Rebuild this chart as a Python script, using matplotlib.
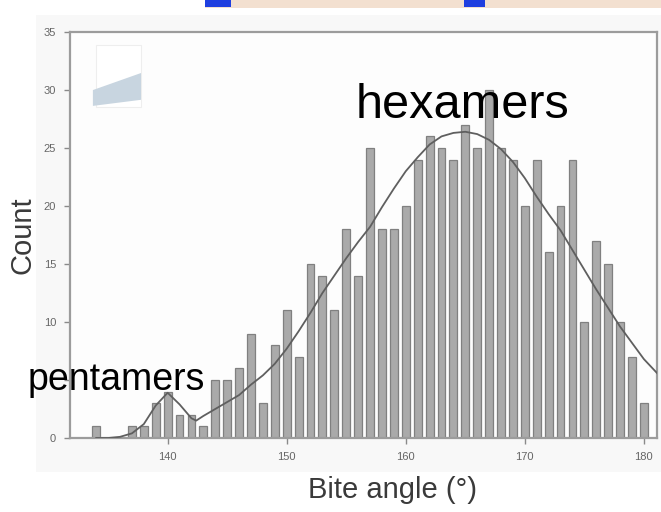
import numpy as np
import matplotlib
matplotlib.use('Agg')
import matplotlib.pyplot as plt
from matplotlib.patches import Rectangle, Polygon

plt.rcParams['font.family'] = ['Liberation Sans', 'DejaVu Sans']

# histogram of bite angles, 1 degree bins
angles = list(range(134, 181))
counts = [1, 0, 0, 1, 1, 3, 4, 2, 2, 1,
          5, 5, 6, 9, 3, 8, 11, 7, 15, 14,
          11, 18, 14, 25, 18, 18, 20, 24, 26, 25,
          24, 27, 25, 30, 25, 24, 20, 24, 16, 20,
          24, 10, 17, 15, 10, 7, 3]

# fitted distribution (pentamer + hexamer populations)
fit_x = [134, 135, 136, 137, 138, 139, 140, 141, 142, 142.4, 143, 144,
         145, 146, 147, 148, 149, 150, 151, 152, 153, 154, 155, 156,
         157, 158, 159, 160, 161, 162, 163, 164, 165, 166, 167, 168,
         169, 170, 171, 172, 173, 174, 175, 176, 177, 178, 179, 180, 181.1]
fit_y = [0.0, 0.0, 0.1, 0.4, 1.2, 2.8, 3.9, 2.9, 1.7, 1.5, 1.9, 2.5,
         3.1, 3.7, 4.6, 5.4, 6.4, 7.7, 9.2, 10.8, 12.5, 14.0, 15.5, 16.9,
         18.2, 19.9, 21.5, 23.0, 24.2, 25.3, 26.0, 26.3, 26.4, 26.2, 25.7, 24.9,
         23.8, 22.4, 20.8, 19.3, 17.9, 16.2, 14.5, 12.8, 11.2, 9.6, 8.2, 6.8, 5.6]

xticks = [140, 150, 160, 170, 180]
yticks = [0, 5, 10, 15, 20, 25, 30, 35]
# the "5" label sits under the pentamers annotation
ytick_labels = ['0', '', '10', '15', '20', '25', '30', '35']

fig = plt.figure(figsize=(6.61, 5.12), dpi=100)

# light backdrop behind the plot and a strip along the top edge
bg = fig.add_axes([0, 0, 1, 1], zorder=-10)
bg.set_xlim(0, 661)
bg.set_ylim(512, 0)
bg.axis('off')
bg.add_patch(Rectangle((36, 15), 625, 457, facecolor='#f8f8f8', edgecolor='none'))
bg.add_patch(Rectangle((205, 0), 456, 8, facecolor='#f3e0d0', edgecolor='none'))
for x0, x1 in [(205, 231), (464, 485)]:
    bg.add_patch(Rectangle((x0, 0), x1 - x0, 7, facecolor='#1f3fe0', edgecolor='none'))

ax = fig.add_axes([70 / 661, 74 / 512, 587 / 661, 406 / 512])
ax.set_facecolor('#fdfdfd')

ax.bar(angles, counts, width=0.66, color='#aaaaaa', edgecolor='#808080',
       linewidth=0.9, zorder=2)
ax.plot(fit_x, fit_y, color='#5f5f5f', lw=1.3, zorder=3)

ax.set_xlim(131.8, 181.1)
ax.set_ylim(0, 35)
ax.set_xticks(xticks)
ax.set_yticks(yticks)
ax.set_yticklabels(ytick_labels)
ax.tick_params(direction='out', length=4, width=1, color='#8a8a8a',
               labelsize=8, labelcolor='#666666', pad=6)
for s in ax.spines.values():
    s.set_color('#9c9c9c')
    s.set_linewidth(1.6)

# small legend swatch in the corner
ax.add_patch(Rectangle((0.044, 0.815), 0.077, 0.153, transform=ax.transAxes,
                       facecolor='white', edgecolor='#eeeeee', lw=0.8, zorder=4))
ax.add_patch(Polygon([(0.039, 0.857), (0.121, 0.899), (0.121, 0.833), (0.039, 0.818)],
                     closed=True, transform=ax.transAxes, facecolor='#c8d5e0',
                     edgecolor='none', zorder=5))

ax.text(155.8, 27.6, 'hexamers', fontsize=35, color='black', va='baseline',
        ha='left', zorder=6)
ax.text(128.2, 4.1, 'pentamers', fontsize=27, color='black', va='baseline',
        ha='left', zorder=6, clip_on=False)

fig.text(22 / 661, 1 - 235 / 512, 'Count', rotation=90, fontsize=21,
         color='#3a3a3a', ha='center', va='center')
fig.text(392 / 661, 1 - 490 / 512, 'Bite angle (°)', fontsize=21,
         color='#3a3a3a', ha='center', va='center')

fig.savefig('out.png', dpi=100)
